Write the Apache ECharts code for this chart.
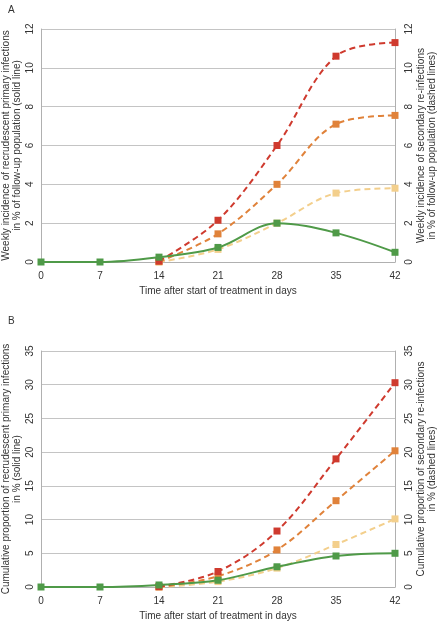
<!DOCTYPE html>
<html><head><meta charset="utf-8">
<script src="https://cdn.jsdelivr.net/npm/echarts@6/dist/echarts.min.js"></script>
<style>html,body{margin:0;padding:0;background:#fff}#c{width:438px;height:621px}</style>
</head><body><div id="c"></div>
<script>
// Days after start of treatment
const days = [0, 7, 14, 21, 28, 35, 42];
const xTicks = [0, 7, 14, 21, 28, 35, 42];
// Panel A: weekly incidence (%)
const aPrimary = [0, 0, 0.25, 0.75, 2.0, 1.5, 0.5];
const aReRed = [null, null, 0.05, 2.15, 6.0, 10.6, 11.3];
const aReOrange = [null, null, 0.02, 1.45, 4.0, 7.1, 7.55];
const aReLight = [null, null, 0.0, 0.65, 2.0, 3.55, 3.8];
// Panel B: cumulative proportion (%)
const bPrimary = [0, 0, 0.3, 1.0, 3.0, 4.6, 5.0];
const bReRed = [null, null, 0.05, 2.3, 8.3, 19.0, 30.3];
const bReOrange = [null, null, 0.02, 1.6, 5.5, 12.8, 20.2];
const bReLight = [null, null, 0.0, 0.8, 2.8, 6.3, 10.1];

const font = 'Liberation Sans, Arial, sans-serif';
const txt = '#333';
const toPairs = arr => days.map((d, i) => [d, arr[i]]).filter(p => p[1] !== null);

function xAxisCfg(gi) {
  return {
    type: 'value', gridIndex: gi, min: 0, max: 42, interval: 7,
    name: 'Time after start of treatment in days', nameLocation: 'middle', nameGap: 24,
    nameMoveOverlap: false,
    nameTextStyle: { fontFamily: font, fontSize: 10, color: txt },
    axisLine: { lineStyle: { color: '#b0b0b0', width: 1 } },
    axisTick: { show: false }, splitLine: { show: false },
    axisLabel: { fontFamily: font, fontSize: 10, color: txt, margin: 9 }
  };
}
function yAxisCfg(gi, pos, max, interval, name) {
  return {
    type: 'value', gridIndex: gi, position: pos, min: 0, max: max, interval: interval,
    name: name, nameLocation: 'middle', nameRotate: 90, nameGap: pos === 'left' ? 18 : 21,
    nameMoveOverlap: false,
    nameTextStyle: { fontFamily: font, fontSize: 10, color: txt, lineHeight: 11, align: 'center' },
    axisLine: { show: true, lineStyle: { color: '#b0b0b0', width: 1 } },
    axisTick: { show: false },
    splitLine: { show: pos === 'left', lineStyle: { color: '#c4c4c4', width: 1 } },
    axisLabel: { fontFamily: font, fontSize: 10, color: txt, rotate: 90, margin: pos === 'left' ? 6 : 9 }
  };
}
function line(xi, yi, data, color, dashed, z) {
  return {
    type: 'line', xAxisIndex: xi, yAxisIndex: yi, data: toPairs(data),
    smooth: 0.35, symbol: 'rect', symbolSize: 7, z: z,
    lineStyle: { color: color, width: 2, type: dashed ? [6, 4] : 'solid' },
    itemStyle: { color: color }
  };
}
const cRed = '#cf3a2e', cOr = '#e0823a', cLt = '#f3cf8c', cGr = '#4f9a48';

const chart = echarts.init(document.getElementById('c'), null, { renderer: 'canvas' });
chart.setOption({
  animation: false,
  backgroundColor: '#fff',
  title: [
    { text: 'A', left: 3, top: 0, textStyle: { fontFamily: font, fontSize: 10, fontWeight: 'normal', color: txt } },
    { text: 'B', left: 3, top: 311, textStyle: { fontFamily: font, fontSize: 10, fontWeight: 'normal', color: txt } }
  ],
  grid: [
    { left: 41, top: 29, width: 354, height: 233, containLabel: false, outerBoundsMode: 'none' },
    { left: 41, top: 351, width: 354, height: 236, containLabel: false, outerBoundsMode: 'none' }
  ],
  xAxis: [xAxisCfg(0), xAxisCfg(1)],
  yAxis: [
    yAxisCfg(0, 'left', 12, 2, 'Weekly incidence of recrudescent primary infections\nin % of follow-up population (solid line)'),
    yAxisCfg(0, 'right', 12, 2, 'Weekly incidence of secondary re-infections\nin % of follow-up population (dashed lines)'),
    yAxisCfg(1, 'left', 35, 5, 'Cumulative proportion of recrudescent primary infections\nin % (solid line)'),
    yAxisCfg(1, 'right', 35, 5, 'Cumulative proportion of secondary re-infections\nin % (dashed lines)')
  ],
  series: [
    line(0, 1, aReLight, cLt, true, 2),
    line(0, 1, aReOrange, cOr, true, 3),
    line(0, 1, aReRed, cRed, true, 4),
    line(0, 0, aPrimary, cGr, false, 5),
    line(1, 3, bReLight, cLt, true, 2),
    line(1, 3, bReOrange, cOr, true, 3),
    line(1, 3, bReRed, cRed, true, 4),
    line(1, 2, bPrimary, cGr, false, 5)
  ]
});
</script></body></html>
